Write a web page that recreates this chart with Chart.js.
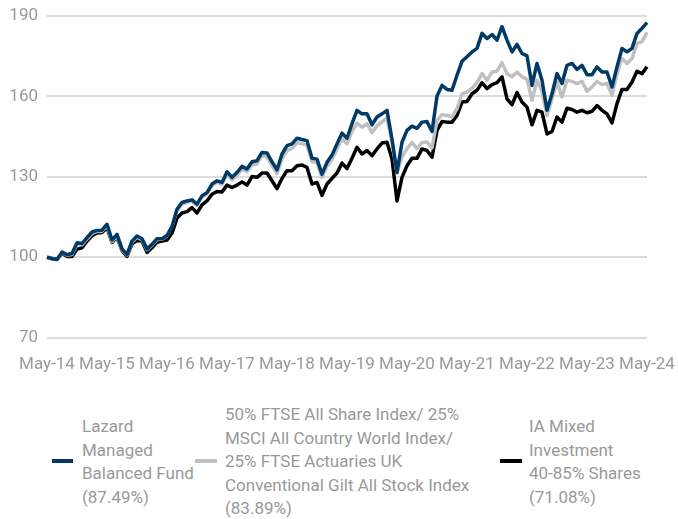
<!DOCTYPE html>
<html>
<head>
<meta charset="utf-8">
<script src="https://cdn.jsdelivr.net/npm/chart.js@4"></script>
<style>
    body { margin: 0; background: #fff; font-family: Roboto, sans-serif; color: #999; }
    #wrap { position: relative; width: 678px; height: 519px; }
    #box { position: absolute; left: 0; top: 0; width: 678px; height: 384px; }
    .leg { position: absolute; font-size: 17px; line-height: 23.5px; color: #999; white-space: nowrap; }
    .sw { position: absolute; height: 4px; }
</style>
</head>
<body>
<div id="wrap">
    <div id="box"><canvas id="perfChart"></canvas></div>
    <div class="sw" style="left:52px;top:459px;width:21px;background:#003a66"></div>
    <div class="leg" style="left:82px;top:415px">Lazard<br>Managed<br>Balanced Fund<br>(87.49%)</div>
    <div class="sw" style="left:195px;top:459px;width:22px;background:#c0c0c0"></div>
    <div class="leg" style="left:225px;top:403px">50% FTSE All Share Index/ 25%<br>MSCI All Country World Index/<br>25% FTSE Actuaries UK<br>Conventional Gilt All Stock Index<br>(83.89%)</div>
    <div class="sw" style="left:500px;top:459px;width:22px;background:#000"></div>
    <div class="leg" style="left:529px;top:415px">IA Mixed<br>Investment<br>40-85% Shares<br>(71.08%)</div>
</div>
<script>
// month labels May-14 .. May-24
const monthNames = ['Jan', 'Feb', 'Mar', 'Apr', 'May', 'Jun', 'Jul', 'Aug', 'Sep', 'Oct', 'Nov', 'Dec'];
const months = [];
for (let i = 0; i <= 120; i++) {
    const m = (4 + i) % 12;
    const y = 14 + Math.floor((4 + i) / 12);
    months.push(monthNames[m] + '-' + y);
}

const yTicks = [70, 100, 130, 160, 190];

const lazardFund = [
    100, 99.4, 99.1, 101.9, 100.9, 101.4, 105.4, 105.1, 107.3, 109.4, 110, 110.1,
    112.3, 106.4, 108.5, 103.1, 101, 106, 107.9, 106.9, 103.1, 104.8, 106.9, 106.9,
    108.1, 111.4, 117.9, 120.4, 121, 121.4, 119.8, 122.9, 124.1, 127.3, 128.5, 127.9,
    131.9, 129.8, 131.6, 133.9, 132.9, 135.6, 136, 139.1, 138.9, 135.6, 132.6, 138.5,
    141.6, 142.3, 144.4, 143.9, 143.5, 136.9, 136.6, 131, 135.4, 138.1, 142.3, 146.3,
    144.4, 149.8, 154.8, 153.5, 153.5, 149.4, 152.3, 153.5, 154.8, 144, 131.6, 142.9,
    147.3, 148.9, 148.1, 150.4, 150.6, 146.9, 160.1, 164.1, 162.6, 162.3, 167.9, 173.1,
    174.8, 176.6, 177.9, 183.5, 181.6, 183.1, 181, 186, 181, 176.6, 179.4, 176,
    175.1, 164.1, 172.3, 166, 154.8, 161, 168.5, 164.8, 171.6, 172.3, 170.1, 171.6,
    168.1, 168.1, 171, 169.1, 169.1, 163.5, 171, 177.9, 176.6, 177.9, 183.5, 185.4,
    187.5
];

const compositeIndex = [
    100, 99.4, 99.1, 101.7, 100.7, 101, 104.8, 104.6, 106.8, 108.9, 109.6, 109.7,
    111.8, 105.8, 108, 102.8, 100.8, 105.6, 107.5, 106.5, 102.8, 104.5, 106.6, 106.7,
    108, 111.6, 117.5, 119.8, 120.5, 121, 119.3, 122.6, 123.6, 126.7, 128, 127.2,
    131, 128.8, 130.6, 132.8, 131.9, 134.5, 134.8, 137.8, 137.5, 134.2, 131.2, 136.8,
    139.8, 140.6, 142.8, 142.3, 141.8, 135.6, 135.2, 129.8, 134, 136.5, 140.4, 144.2,
    142.3, 147, 150, 148.5, 149.8, 146.5, 149, 150.5, 152, 143, 131.5, 137.5,
    140.5, 142.8, 140.5, 142.8, 143, 140.8, 151, 153.2, 152.9, 152.3, 155.4, 161,
    161.6, 163.1, 165.1, 168.5, 166, 169.1, 169.4, 172.6, 168.5, 167.3, 169.1, 167.3,
    166.4, 158.5, 166, 161.9, 152.9, 159.1, 165.4, 159.8, 166, 165.6, 164.8, 165.6,
    161.9, 163.5, 165.6, 164.4, 164.8, 160.4, 168.5, 174.1, 172.3, 174.1, 179.8, 180.4,
    183.9
];

const iaMixed = [
    100, 99.5, 99.2, 101.5, 100.3, 100.3, 103, 103.5, 106, 108, 109, 109.2,
    111, 105.5, 107.5, 102.5, 100.3, 105, 106.2, 106, 101.8, 103.5, 105.6, 106,
    106.4, 109, 114.6, 116.5, 117, 118.5, 116.5, 119.5, 121, 123.5, 124.5, 124.3,
    126.9, 126, 126.9, 128.1, 126.9, 130.1, 129.8, 131.4, 131.4, 128.5, 125.6, 129.4,
    132.3, 132.3, 134.1, 134.4, 133.5, 127.3, 127.9, 123.1, 127.3, 129.4, 131.4, 135.1,
    133.1, 136.9, 141, 138.5, 139.8, 137.9, 140.4, 142.6, 142.9, 136.6, 121, 129.8,
    134.1, 136.9, 136.9, 140.4, 139.8, 137.3, 147.3, 150.6, 150.4, 150.4, 152.9, 157.9,
    158.1, 161, 162.3, 165.1, 162.9, 164.4, 165.1, 167.3, 159.1, 156.9, 161.4, 157.9,
    156, 149.4, 154.8, 154.1, 146, 146.9, 152.3, 150.4, 155.6, 155.1, 154.1, 154.8,
    153.9, 154.4, 156.6, 154.8, 153.5, 150.1, 157.3, 162.6, 162.6, 165.4, 169.4, 168.5,
    171.1
];

new Chart(document.getElementById('perfChart'), {
    type: 'line',
    data: {
        labels: months,
        datasets: [{
            label: 'Lazard Managed Balanced Fund (87.49%)',
            data: lazardFund,
            borderColor: '#003a66',
            borderWidth: 3.5
        }, {
            label: '50% FTSE All Share Index/ 25% MSCI All Country World Index/ 25% FTSE Actuaries UK Conventional Gilt All Stock Index (83.89%)',
            data: compositeIndex,
            borderColor: '#c0c0c0',
            borderWidth: 3.5
        }, {
            label: 'IA Mixed Investment 40-85% Shares (71.08%)',
            data: iaMixed,
            borderColor: '#000000',
            borderWidth: 3.5
        }]
    },
    options: {
        responsive: true,
        maintainAspectRatio: false,
        animation: false,
        elements: {
            point: { radius: 0 },
            line: { tension: 0, borderJoinStyle: 'round' }
        },
        layout: { padding: { left: 0, right: 31, top: 16, bottom: 0 } },
        plugins: {
            legend: { display: false },
            tooltip: { enabled: false }
        },
        scales: {
            x: {
                afterFit: function (scale) {
                    scale.paddingLeft = 0;
                    scale.paddingRight = 0;
                },
                grid: { display: false },
                border: { display: false },
                ticks: {
                    autoSkip: false,
                    maxRotation: 0,
                    padding: 9,
                    color: '#999',
                    font: { family: 'Roboto', size: 17 },
                    callback: function (v, i) {
                        return i % 12 === 0 ? months[i] : null;
                    }
                }
            },
            y: {
                min: 70,
                max: 190,
                afterFit: function (scale) {
                    scale.width = 47;
                    scale.paddingTop = 0;
                    scale.paddingBottom = 0;
                },
                afterBuildTicks: function (scale) {
                    scale.ticks = yTicks.map(v => ({ value: v }));
                },
                grid: { color: '#dcdcdc', lineWidth: 2, drawTicks: false },
                border: { display: false },
                ticks: {
                    padding: 9,
                    color: '#999',
                    font: { family: 'Roboto', size: 17 }
                }
            }
        }
    }
});
</script>
</body>
</html>
